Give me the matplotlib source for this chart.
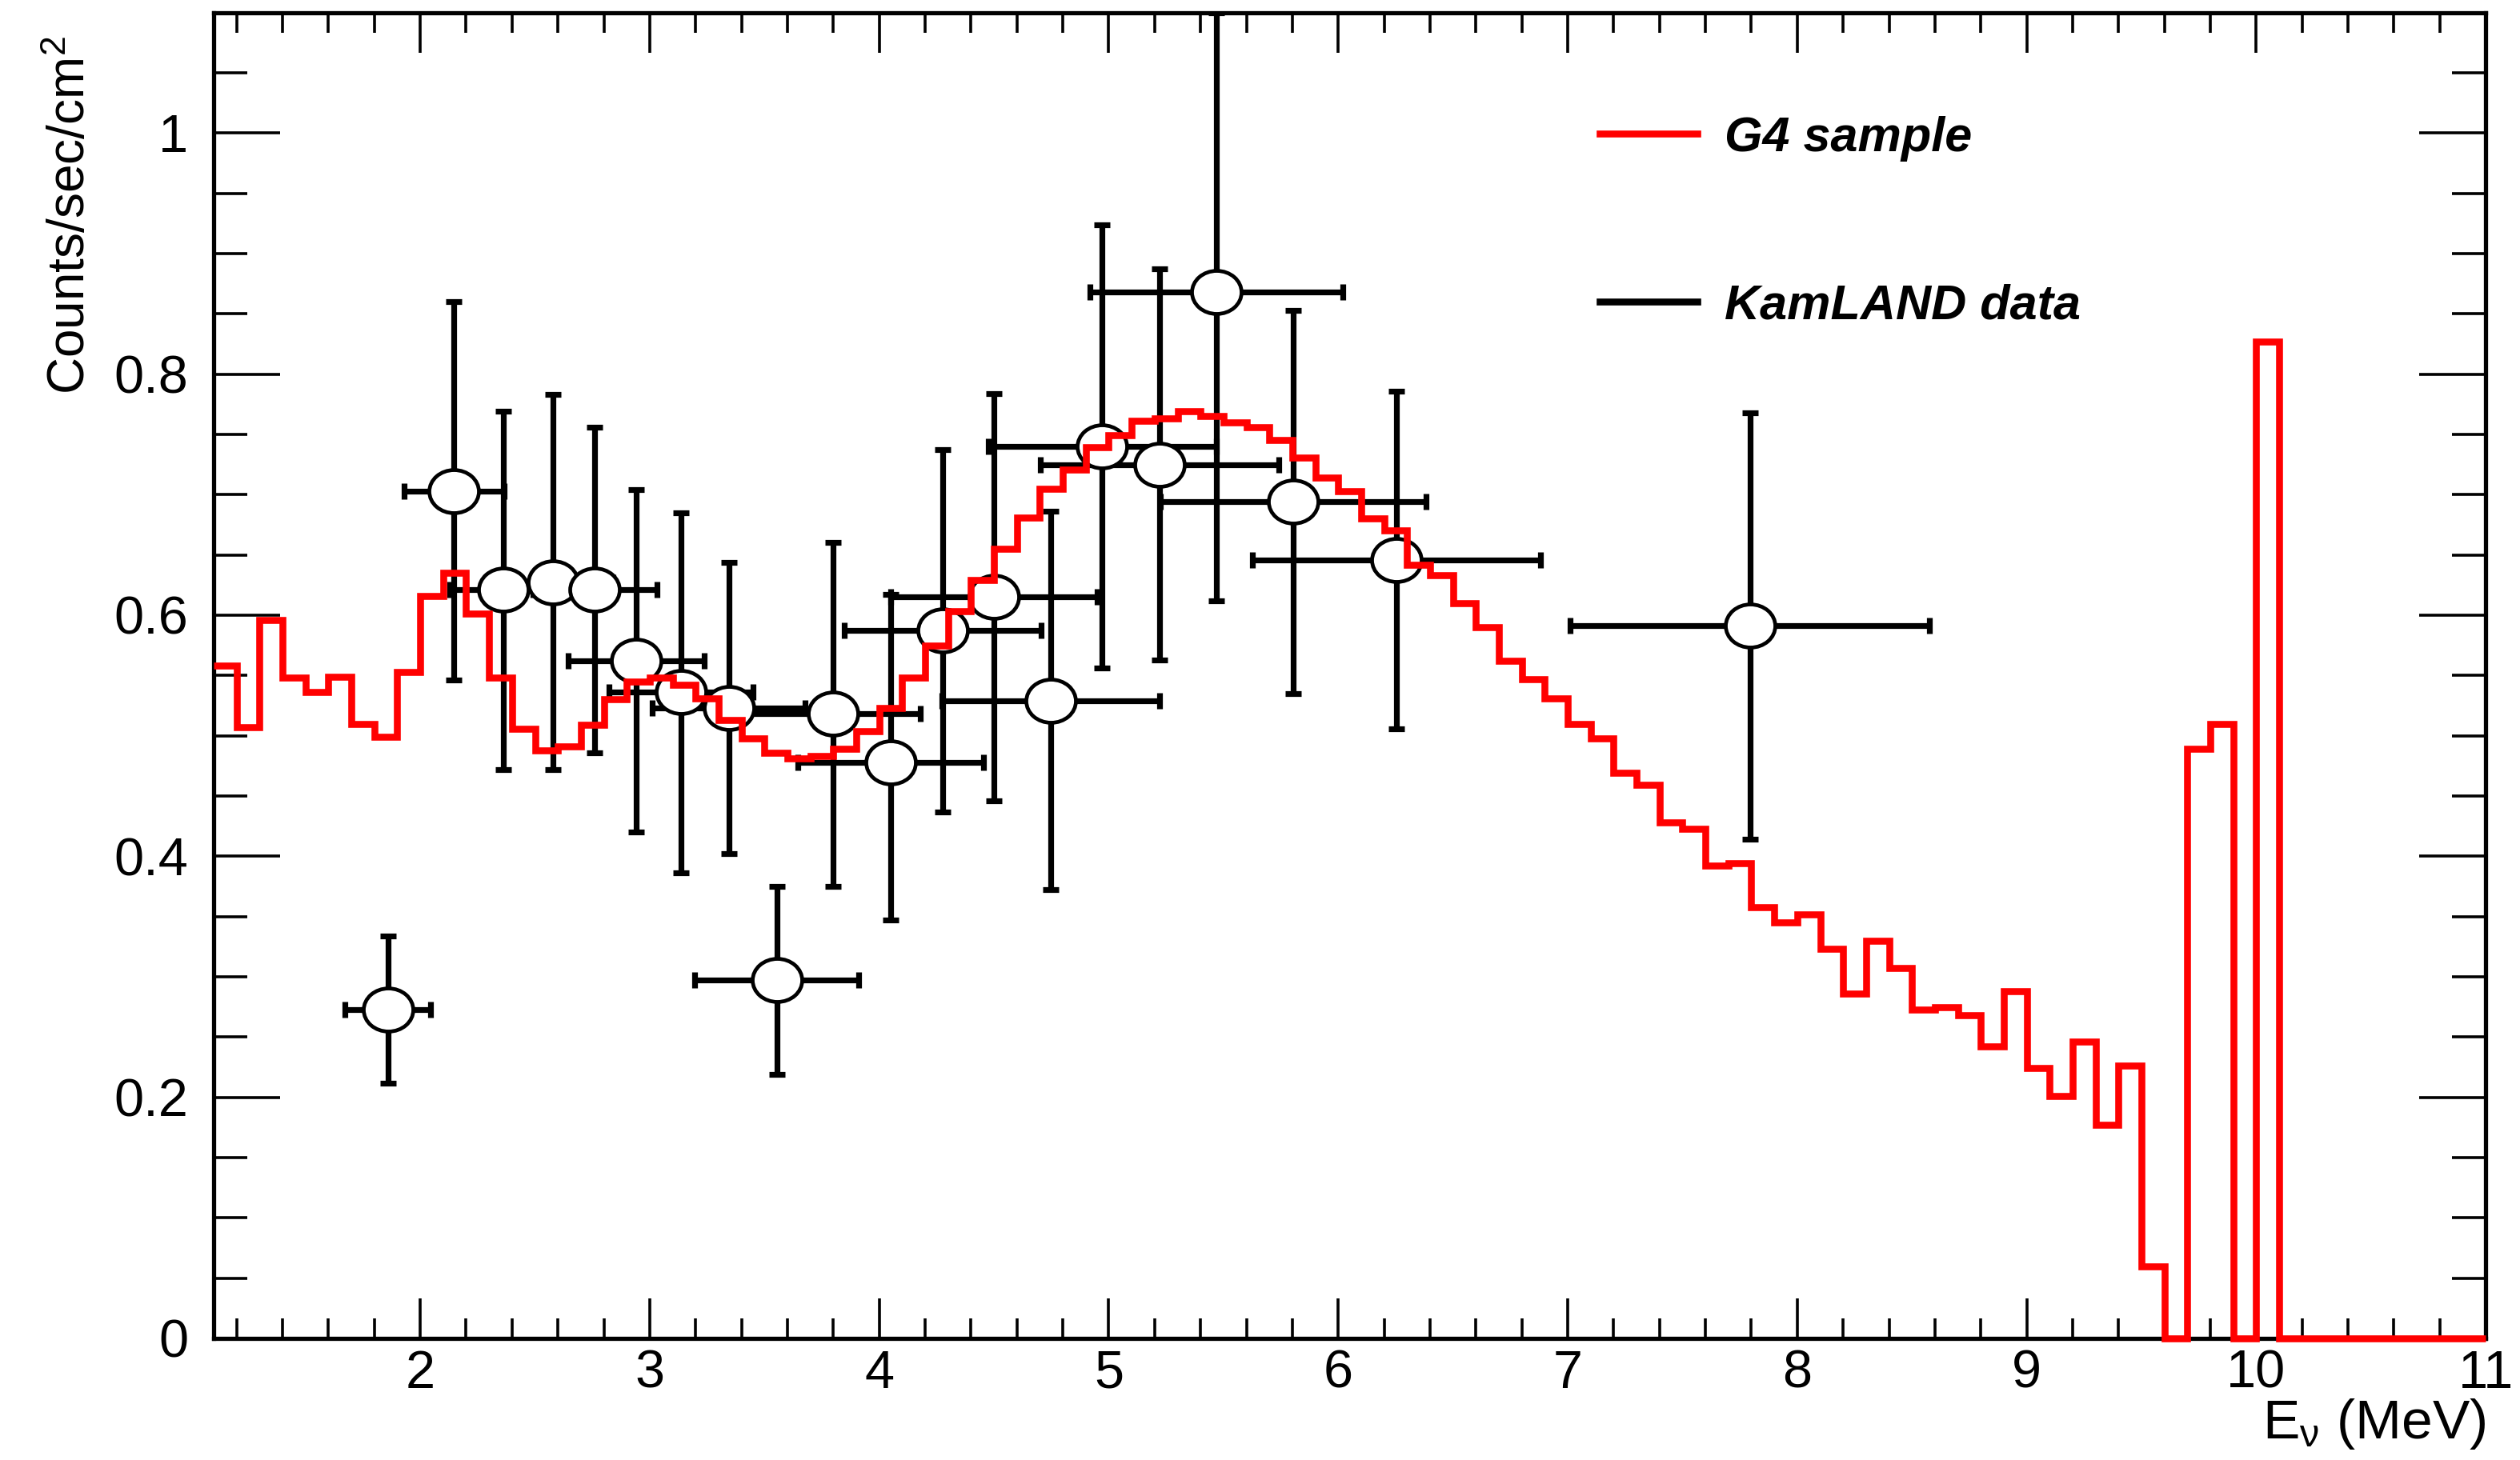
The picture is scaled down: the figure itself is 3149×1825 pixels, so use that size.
import numpy as np
import matplotlib
matplotlib.use("Agg")
import matplotlib.pyplot as plt
from matplotlib.path import Path
from matplotlib.lines import Line2D
from matplotlib.ticker import MultipleLocator, FuncFormatter

# ---------------- data ----------------
bin_lo = 1.1
bin_hi = 11.0
# G4 sample histogram, 0.1 MeV bins from 1.1 to 11.0 MeV
g4_counts = [
    0.558, 0.507, 0.596, 0.548, 0.536, 0.549, 0.510, 0.499, 0.553,           # 1.1-1.9
    0.616, 0.635, 0.601, 0.548, 0.506, 0.488, 0.491, 0.509, 0.530, 0.545,    # 2.0-2.9
    0.548, 0.542, 0.531, 0.513, 0.498, 0.486, 0.481, 0.483, 0.489, 0.504,    # 3.0-3.9
    0.523, 0.548, 0.575, 0.603, 0.629, 0.655, 0.681, 0.705, 0.721, 0.739,    # 4.0-4.9
    0.749, 0.761, 0.763, 0.769, 0.765, 0.760, 0.756, 0.745, 0.731, 0.714,    # 5.0-5.9
    0.703, 0.680, 0.670, 0.642, 0.633, 0.610, 0.590, 0.562, 0.547, 0.531,    # 6.0-6.9
    0.510, 0.498, 0.469, 0.459, 0.428, 0.423, 0.392, 0.394, 0.358, 0.345,    # 7.0-7.9
    0.352, 0.323, 0.286, 0.330, 0.307, 0.273, 0.275, 0.268, 0.242, 0.288,    # 8.0-8.9
    0.224, 0.201, 0.246, 0.177, 0.226, 0.060, 0.000, 0.489, 0.510, 0.000,    # 9.0-9.9
    0.827, 0.000, 0.000, 0.000, 0.000, 0.000, 0.000, 0.000, 0.000, 0.000,    # 10.0-10.9
]

# KamLAND data points
data_e = [1.859, 2.147, 2.363, 2.579, 2.760, 2.941, 3.137, 3.345, 3.553, 3.798,
          4.049, 4.277, 4.501, 4.748, 4.972, 5.222, 5.469, 5.803, 6.253, 7.794]
data_rate = [0.2725, 0.703, 0.621, 0.627, 0.621, 0.562, 0.536, 0.523, 0.297, 0.518,
             0.478, 0.587, 0.615, 0.529, 0.740, 0.725, 0.868, 0.694, 0.646, 0.591]
data_e_err = [0.187, 0.217, 0.236, 0.260, 0.270, 0.297, 0.314, 0.333, 0.356, 0.380,
              0.405, 0.430, 0.450, 0.475, 0.497, 0.520, 0.550, 0.578, 0.628, 0.782]
data_rate_err_lo = [0.061, 0.157, 0.149, 0.155, 0.135, 0.142, 0.150, 0.121, 0.078, 0.143,
                    0.131, 0.150, 0.169, 0.157, 0.184, 0.162, 0.256, 0.159, 0.140, 0.177]
data_rate_err_hi = [0.061, 0.157, 0.148, 0.156, 0.135, 0.142, 0.149, 0.121, 0.078, 0.142,
                    0.139, 0.150, 0.169, 0.157, 0.184, 0.162, 0.232, 0.159, 0.140, 0.177]

legend_labels = ["G4 sample", "KamLAND data"]
x_label = r"E$_{\mathregular{ν}}$ (MeV)"
y_label = r"Counts/sec/cm$^{\mathregular{2}}$"

# ---------------- style ----------------
plt.rcParams["font.family"] = ["Liberation Sans", "DejaVu Sans"]
plt.rcParams["mathtext.fontset"] = "custom"
plt.rcParams["mathtext.rm"] = "Liberation Sans"
plt.rcParams["mathtext.it"] = "Liberation Sans:italic"
plt.rcParams["mathtext.bf"] = "Liberation Sans:bold"

DPI = 200
fig = plt.figure(figsize=(3149 / DPI, 1825 / DPI), dpi=DPI)
ax = fig.add_axes([0.0848, 0.0833, 0.9016, 0.9082])

edges = np.linspace(bin_lo, bin_hi, len(g4_counts) + 1)

# data points with error bars
ax.errorbar(data_e, data_rate, xerr=data_e_err,
            yerr=[data_rate_err_lo, data_rate_err_hi],
            fmt="none", ecolor="black", elinewidth=2.6,
            capsize=3.6, capthick=2.6, zorder=3)

circ = Path.unit_circle()
ellipse = Path(circ.vertices * np.array([1.0, 0.87]), circ.codes)
ax.plot(data_e, data_rate, ls="none", marker=ellipse, ms=22.3,
        mfc="white", mec="black", mew=1.7, zorder=4)

# G4 histogram
ax.stairs(g4_counts, edges, baseline=None, color="red", lw=3.1,
          zorder=5, clip_on=False)

ax.set_xlim(bin_lo, bin_hi)
ax.set_ylim(0, 1.1)

ax.xaxis.set_major_locator(MultipleLocator(1))
ax.xaxis.set_minor_locator(MultipleLocator(0.2))
ax.yaxis.set_major_locator(MultipleLocator(0.2))
ax.yaxis.set_minor_locator(MultipleLocator(0.05))
fmt = FuncFormatter(lambda v, p: f"{v:g}")
ax.xaxis.set_major_formatter(fmt)
ax.yaxis.set_major_formatter(fmt)

ax.tick_params(which="both", direction="in", top=True, right=True,
               width=1.3, color="black", labelsize=24)
ax.tick_params(axis="x", which="major", length=18, pad=5)
ax.tick_params(axis="x", which="minor", length=9)
ax.tick_params(axis="y", which="major", length=30, pad=11.5)
ax.tick_params(axis="y", which="minor", length=15)

for s in ax.spines.values():
    s.set_linewidth(1.9)

ax.set_xlabel(x_label, fontsize=25, loc="right")
ax.xaxis.set_label_coords(1.0, -0.044)
ax.set_ylabel(y_label, fontsize=23, loc="top")
ax.yaxis.set_label_coords(-0.052, 0.982)

handles = [Line2D([], [], color="red", lw=3.1),
           Line2D([], [], color="black", lw=3.1)]
ax.legend(handles, legend_labels, loc="upper left",
          bbox_to_anchor=(0.610, 0.922), frameon=False,
          prop={"family": "Liberation Sans", "weight": "bold",
                "style": "italic", "size": 22},
          handlelength=2.0, handletextpad=0.55, labelspacing=2.5,
          borderpad=0, borderaxespad=0)

fig.savefig("out.png", dpi=DPI)
